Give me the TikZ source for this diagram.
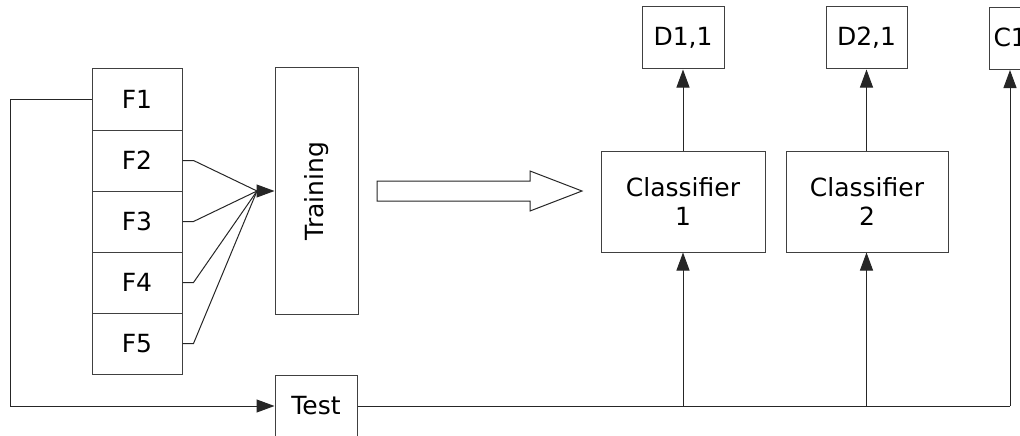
\documentclass[tikz,border=0pt]{standalone}
\usepackage{fontspec}
\setmainfont{DejaVu Sans}
\usetikzlibrary{arrows.meta,calc}
\begin{document}
\begin{tikzpicture}[x=1pt,y=1pt,
  every node/.style={font=\fontsize{25}{29}\selectfont},
  box/.style={draw=black!75, line width=1pt, rectangle, inner sep=0pt, align=center},
  ln/.style={draw=black!85, line width=1pt},
  arr/.style={ln, -{Triangle[length=18pt,width=13pt]}}]
\useasboundingbox (0,0) rectangle (1020,-436);
% F column
\node[box, minimum width=90, minimum height=61] (f1) at (137,-99.5) {F1};
\node[box, minimum width=90, minimum height=61] (f2) at (137,-160.5) {F2};
\node[box, minimum width=90, minimum height=61] (f3) at (137,-221.5) {F3};
\node[box, minimum width=90, minimum height=61] (f4) at (137,-282.5) {F4};
\node[box, minimum width=90, minimum height=61] (f5) at (137,-343.5) {F5};
% Training
\node[box, minimum width=83, minimum height=246] (train) at (316.5,-191) {\rotatebox{90}{Training}};
% Classifiers
\node[box, minimum width=164, minimum height=101] (c1) at (683,-201.5) {Classifier\\1};
\node[box, minimum width=162, minimum height=101] (c2) at (867,-201.5) {Classifier\\2};
% outputs
\node[box, minimum width=82, minimum height=62] (d1) at (683,-38) {D1,1};
\node[box, minimum width=81, minimum height=62] (d2) at (866.5,-38) {D2,1};
\node[box, minimum width=82, minimum height=62, anchor=north west, text width=74, inner xsep=4pt, align=left] (cc) at (989,-7) {C1,1};
% Test
\node[box, minimum width=82, minimum height=62] (test) at (316,-406) {Test};
% fan-in to training
\coordinate (fan) at (257,-191);
\foreach \f in {f2,f3,f4,f5} {
  \draw[ln] (\f.east) -- ++(11,0) -- (fan);
}
\draw[arr] (fan) -- (train.west);
% block arrow
\draw[line width=1pt, draw=black!85, fill=white, line join=miter]
  (377,-181) -- (530,-181) -- (530,-171) -- (582,-191) -- (530,-211) -- (530,-201) -- (377,-201) -- cycle;
% left loop from F1 to Test
\coordinate (lt) at (10,-99.5);
\coordinate (lb) at (10,-406);
\draw[arr] (f1.west) -- (lt) -- (lb) -- (test.west);
% test bus
\coordinate (j1) at (683,-406);
\coordinate (j2) at (866.5,-406);
\coordinate (j3) at (1010,-406);
\draw[ln] (test.east) -- (j3);
\draw[arr] (j1) -- (c1.south);
\draw[arr] (j2) -- (j2 |- c2.south);
\draw[arr] (j3) -- (j3 |- cc.south);
\draw[arr] (c1.north) -- (d1.south);
\draw[arr] (c2.north -| d2.south) -- (d2.south);
\end{tikzpicture}
\end{document}
